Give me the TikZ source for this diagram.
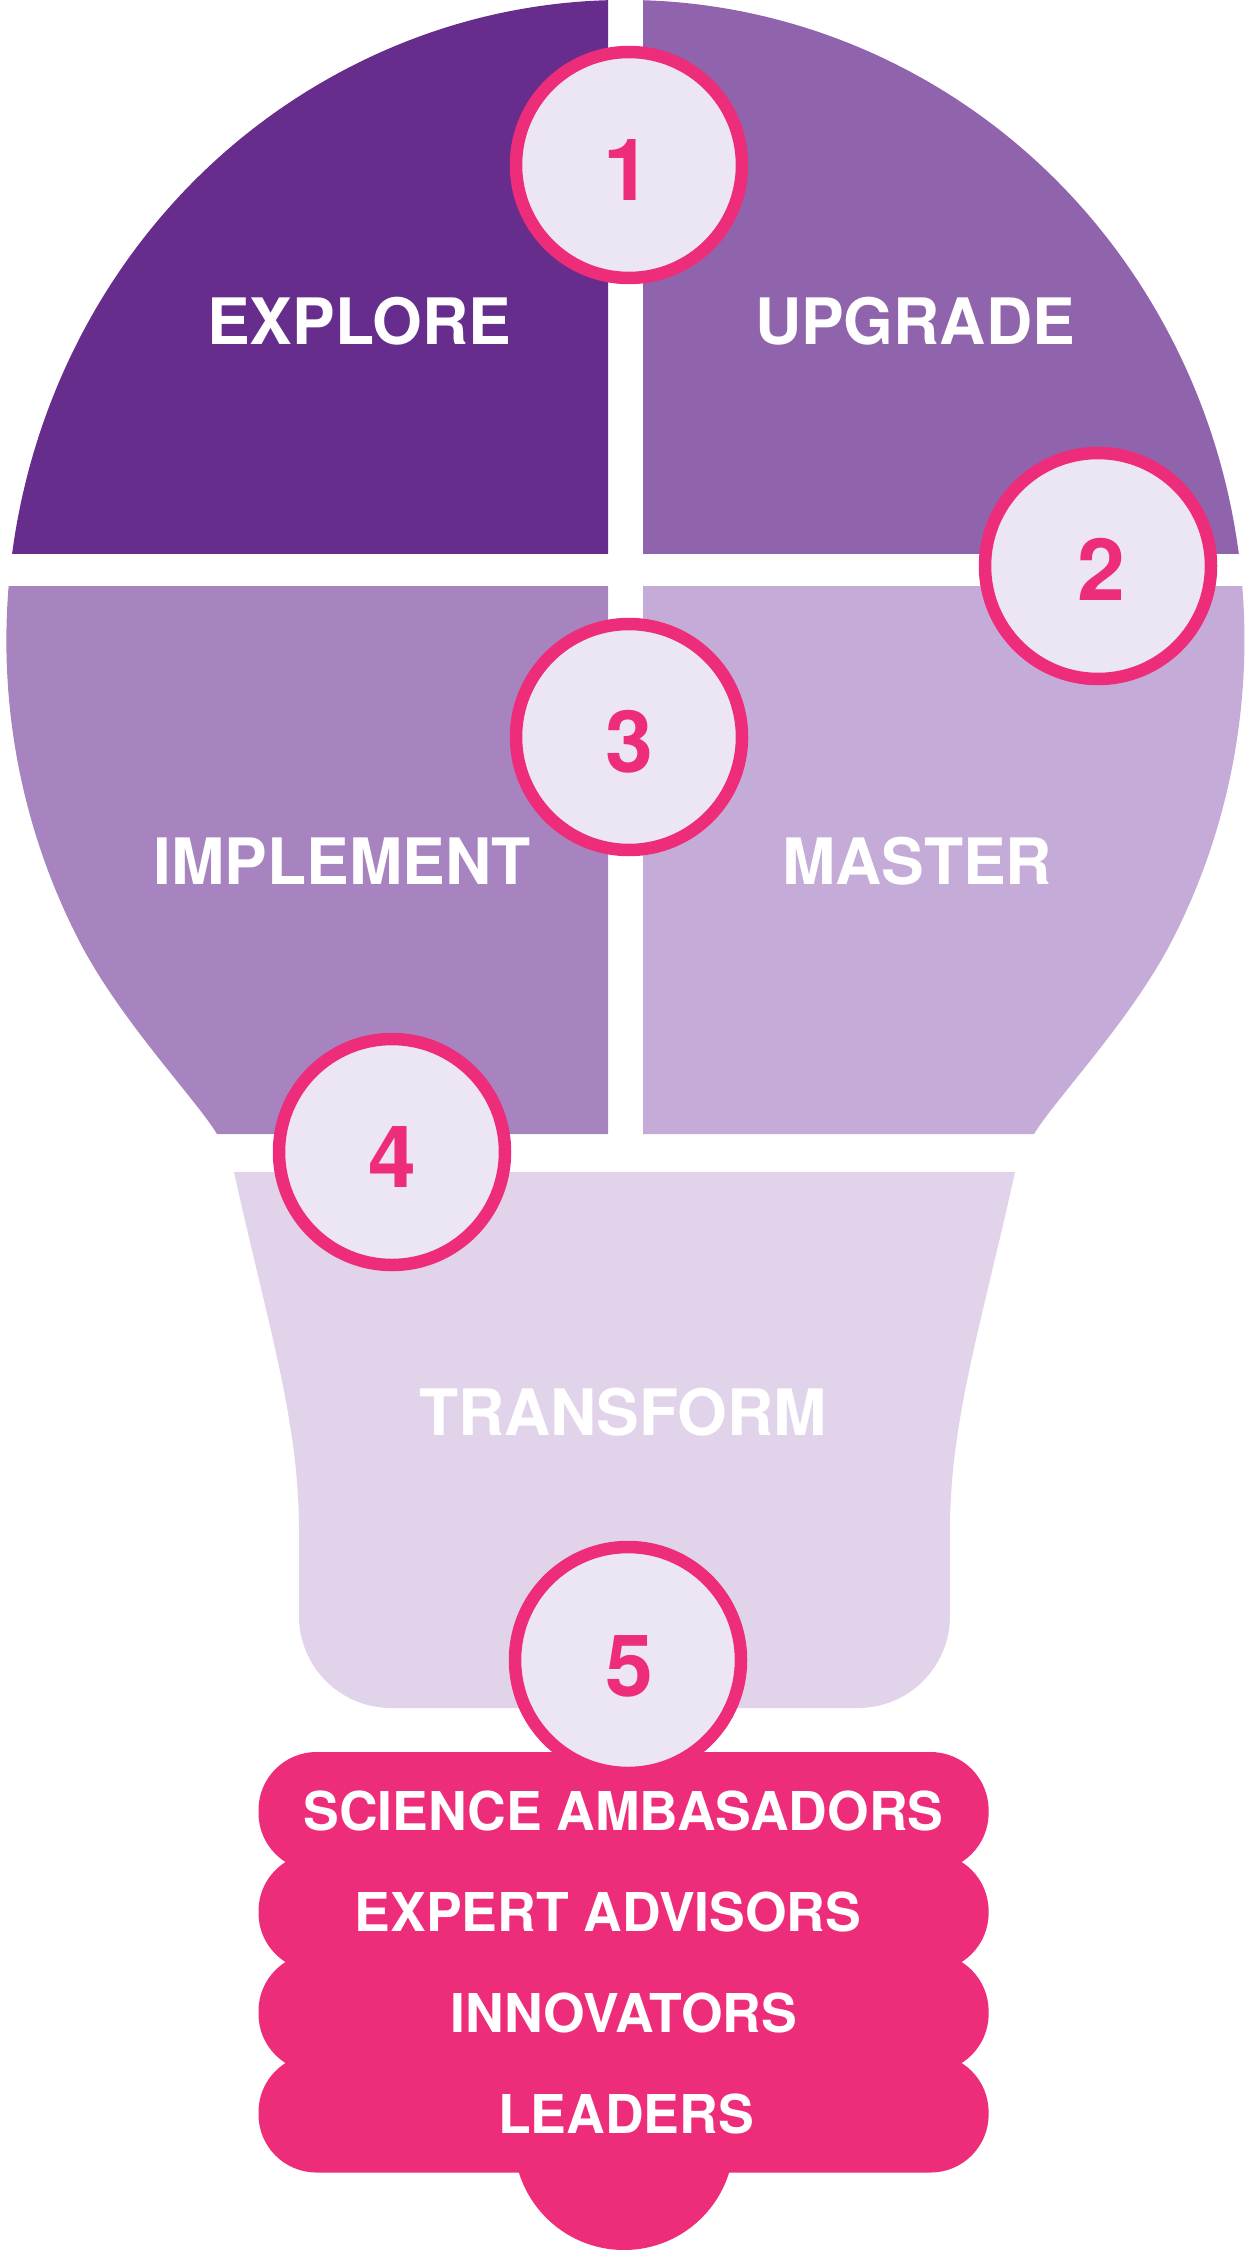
\documentclass[tikz,border=0pt]{standalone}
\usepackage{fontspec}
\setmainfont{TeX Gyre Heros}
\definecolor{qexplore}{HTML}{662D8C}
\definecolor{qupgrade}{HTML}{8F64AC}
\definecolor{qimplement}{HTML}{A784C0}
\definecolor{qmaster}{HTML}{C5ACD8}
\definecolor{qtransform}{HTML}{E1D4EA}
\definecolor{badgefill}{HTML}{EBE6F2}
\definecolor{pinkc}{HTML}{EE2D7A}
\begin{document}
\begin{tikzpicture}[x=1pt,y=-1pt,
  num/.style={text=pinkc, font=\bfseries\fontsize{86}{86}\selectfont, inner sep=0pt, anchor=base},
  lab/.style={text=white, font=\bfseries\fontsize{64}{64}\selectfont, inner sep=0pt, anchor=base},
  ban/.style={text=white, font=\bfseries\fontsize{53.5}{53.5}\selectfont, inner sep=0pt, anchor=base},
  badge/.style={circle, draw=pinkc, fill=badgefill, line width=12.5pt, minimum size=226pt, inner sep=0pt},
  bannerrow/.style={fill=pinkc, rounded corners=58pt},
]
\useasboundingbox (0,0) rectangle (1250,2250);
\clip (0,0) rectangle (1250,2250);

% bulb silhouette
\def\bulbpath{(217,1134) .. controls (196.4,1099.7) and (119.7,1020) .. (78.7,940)
  arc[start angle=152.05, end angle=387.95, x radius=619, y radius=640]
  .. controls (1131.3,1020) and (1054.6,1099.7) .. (1034,1134) -- cycle}

\begin{scope}
  \clip (0,0) rectangle (608,553);
  \fill[qexplore] \bulbpath;
\end{scope}
\begin{scope}
  \clip (643,0) rectangle (1250,553);
  \fill[qupgrade] \bulbpath;
\end{scope}
\begin{scope}
  \clip (0,586) rectangle (608,1134);
  \fill[qimplement] \bulbpath;
\end{scope}
\begin{scope}
  \clip (643,586) rectangle (1250,1134);
  \fill[qmaster] \bulbpath;
\end{scope}

% transform base
\fill[qtransform] (234,1172) -- (1015,1172)
  .. controls (982,1322) and (950,1420) .. (950,1530) -- (950,1616)
  arc[start angle=0, end angle=90, radius=92] -- (391,1708)
  arc[start angle=90, end angle=180, radius=92] -- (299,1530)
  .. controls (299,1420) and (267,1322) .. (234,1172) -- cycle;

% pink banner
\fill[pinkc] (624,2140) circle[radius=110];
\fill[bannerrow] (258.5,1752) rectangle (988.6,1871);
\fill[bannerrow] (258.5,1853) rectangle (988.6,1971);
\fill[bannerrow] (258.5,1953) rectangle (988.6,2072);
\fill[bannerrow] (258.5,2054) rectangle (988.6,2172.5);

% badges
\node[badge] (b1) at (629,165) {};
\node[badge] (b2) at (1098,566) {};
\node[badge] (b3) at (629,737) {};
\node[badge] (b4) at (392,1152) {};
\node[badge] (b5) at (628,1660) {};

\node[num] (n1) at (627,201) {1};
\node[num] (n2) at (1101,600) {2};
\node[num] (n3) at (629,772) {3};
\node[num] (n4) at (392,1187) {4};
\node[num] (n5) at (629,1696) {5};

% labels
\node[lab] (explore) at (359,344) {EXPLORE};
\node[lab] (upgrade) at (915,344) {UPGRADE};
\node[lab] (implement) at (342,884) {IMPLEMENT};
\node[lab] (master) at (917,884) {MASTER};
\node[lab] (transform) at (623,1435) {TRANSFORM};

\node[ban] (t1) at (623.5,1830.5) {SCIENCE AMBASADORS};
\node[ban] (t2) at (608,1931) {EXPERT ADVISORS};
\node[ban] (t3) at (624,2032) {INNOVATORS};
\node[ban] (t4) at (626,2133) {LEADERS};
\end{tikzpicture}
\end{document}
